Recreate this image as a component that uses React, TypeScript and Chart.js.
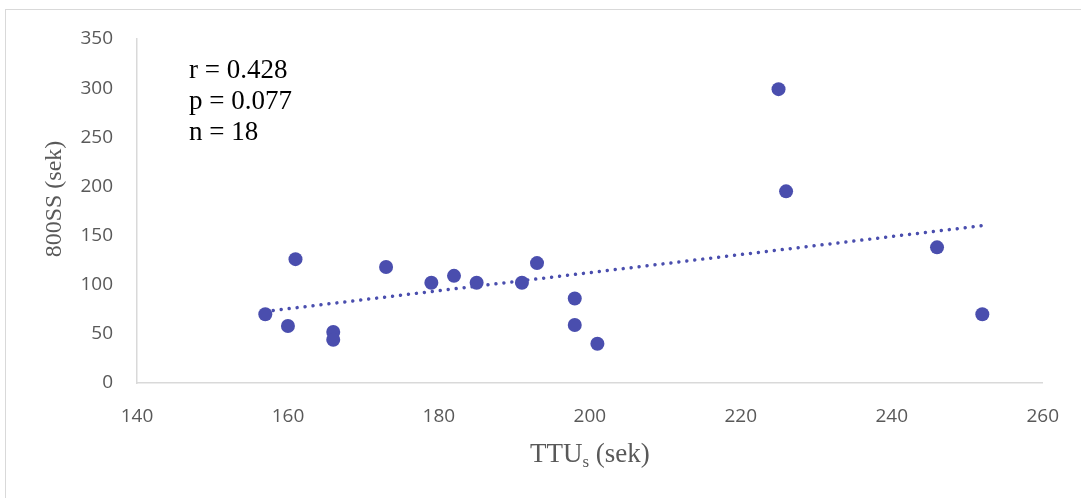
import React, { useEffect, useRef } from "react";
import { Chart, registerables } from "chart.js";

Chart.register(...registerables);

// TTU_s (sek) values – x
const ttuValues = [157, 160, 161, 166, 166, 173, 179, 182, 185, 191, 193, 198, 198, 201, 225, 226, 246, 252];
// 800SS (sek) values – y
const ssValues = [70, 58, 126, 52, 44, 118, 102, 109, 102, 102, 122, 86, 59, 40, 299, 195, 138, 70];

const statLines = ["r = 0.428", "p = 0.077", "n = 18"];
const xTitleMain = "TTU";
const xTitleSub = "s";
const xTitleRest = " (sek)";
const yTitle = "800SS (sek)";

const xMin = 140;
const xMax = 260;
const xStep = 20;
const yMin = 0;
const yMax = 350;
const yStep = 50;

const dotColor = "#4a4eae";
const gray = "#595959";

function trend() {
  const n = ttuValues.length;
  const mx = ttuValues.reduce((a, b) => a + b, 0) / n;
  const my = ssValues.reduce((a, b) => a + b, 0) / n;
  let sxy = 0;
  let sxx = 0;
  for (let i = 0; i < n; i++) {
    sxy += (ttuValues[i] - mx) * (ssValues[i] - my);
    sxx += (ttuValues[i] - mx) ** 2;
  }
  const slope = sxy / sxx;
  const b = my - slope * mx;
  const x0 = Math.min(...ttuValues);
  const x1 = Math.max(...ttuValues);
  return [
    { x: x0, y: slope * x0 + b },
    { x: x1, y: slope * x1 + b },
  ];
}

const textPlugin = {
  id: "texts",
  afterDraw(chart: any) {
    const ctx = chart.ctx;
    const area = chart.chartArea;
    ctx.save();
    // stats
    ctx.fillStyle = "#000";
    ctx.font = '27px "Liberation Serif", "Times New Roman", serif';
    ctx.textAlign = "left";
    ctx.textBaseline = "alphabetic";
    statLines.forEach((t, i) => ctx.fillText(t, 189, 78 + i * 31));

    // x title with subscript
    ctx.fillStyle = gray;
    const mainFont = '27px "Liberation Serif", "Times New Roman", serif';
    const subFont = '17px "Liberation Serif", "Times New Roman", serif';
    ctx.font = mainFont;
    const w1 = ctx.measureText(xTitleMain).width;
    const w3 = ctx.measureText(xTitleRest).width;
    ctx.font = subFont;
    const w2 = ctx.measureText(xTitleSub).width;
    const total = w1 + w2 + w3;
    const cx = (area.left + area.right) / 2;
    let x = cx - total / 2;
    const base = 462;
    ctx.font = mainFont;
    ctx.fillText(xTitleMain, x, base);
    x += w1;
    ctx.font = subFont;
    ctx.fillText(xTitleSub, x, base + 5);
    x += w2;
    ctx.font = mainFont;
    ctx.fillText(xTitleRest, x, base);

    // y title rotated
    ctx.translate(61, (area.top + area.bottom) / 2 - 12);
    ctx.rotate(-Math.PI / 2);
    ctx.font = '24px "Liberation Serif", "Times New Roman", serif';
    ctx.textAlign = "center";
    ctx.fillText(yTitle, 0, 0);
    ctx.restore();
  },
};

export default function App() {
  const ref = useRef<HTMLCanvasElement | null>(null);
  useEffect(() => {
    if (!ref.current) return;
    const points = ttuValues.map((x, i) => ({ x, y: ssValues[i] }));
    const chart = new Chart(ref.current, {
      type: "scatter",
      data: {
        datasets: [
          {
            label: "trend",
            type: "line",
            data: trend(),
            borderColor: dotColor,
            borderWidth: 3.5,
            borderDash: [0.01, 8],
            borderCapStyle: "round",
            pointRadius: 0,
            fill: false,
            order: 2,
          } as any,
          {
            label: "data",
            data: points,
            backgroundColor: dotColor,
            borderWidth: 0,
            pointRadius: 7,
            pointHoverRadius: 7,
            order: 1,
          },
        ],
      },
      options: {
        responsive: false,
        animation: false,
        events: [],
        layout: { padding: { left: 0, right: 35, top: 39, bottom: 0 } },
        plugins: { legend: { display: false }, tooltip: { enabled: false } },
        scales: {
          x: {
            type: "linear",
            min: xMin,
            max: xMax,
            afterFit: (s: any) => {
              s.height = 115;
            },
            ticks: {
              stepSize: xStep,
              color: gray,
              padding: 22,
              font: { family: "Open Sans", size: 19 },
              maxRotation: 0,
            },
            grid: { display: false, drawTicks: false },
            border: { display: true, color: "#d9d9d9", width: 1.5 },
          },
          y: {
            type: "linear",
            min: yMin,
            max: yMax,
            afterFit: (s: any) => {
              s.width = 137;
            },
            ticks: {
              stepSize: yStep,
              color: gray,
              padding: 24,
              font: { family: "Open Sans", size: 19 },
            },
            grid: { display: false, drawTicks: false },
            border: { display: true, color: "#d9d9d9", width: 1.5 },
          },
        },
      },
      plugins: [textPlugin],
    });
    return () => chart.destroy();
  }, []);
  return (
    <div>
      <div
        style={{
          position: "fixed",
          left: 5,
          top: 9,
          width: 1100,
          height: 520,
          border: "1px solid #d9d9d9",
          background: "#fff",
        }}
      />
      <canvas
        ref={ref}
        width={1081}
        height={498}
        style={{ position: "fixed", left: 0, top: 0, width: 1081, height: 498 }}
      />
    </div>
  );
}
